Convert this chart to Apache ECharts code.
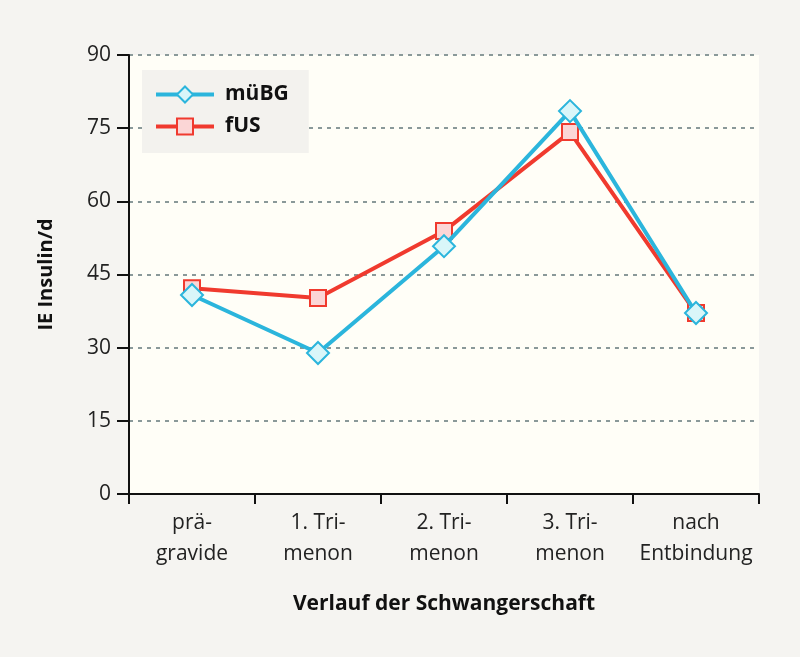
<!DOCTYPE html>
<html><head><meta charset="utf-8">
<script src="https://cdn.jsdelivr.net/npm/echarts@6/dist/echarts.min.js"></script>
<style>html,body{margin:0;padding:0;background:#f5f4f1;}#c{width:800px;height:657px;}</style>
</head><body><div id="c"></div>
<script>
const categories = ['prä-\ngravide', '1. Tri-\nmenon', '2. Tri-\nmenon', '3. Tri-\nmenon', 'nach\nEntbindung'];
const muBG = [40.8, 28.9, 50.8, 78.5, 37.1];
const fUS = [42.2, 40.2, 53.9, 74.2, 37.1];
const yTicks = { min: 0, max: 90, interval: 15 };
const FONT = 'Open Sans';

const chart = echarts.init(document.getElementById('c'));
chart.setOption({
  backgroundColor: '#f5f4f1',
  textStyle: { fontFamily: FONT },
  grid: { left: 129, right: 41, top: 55, bottom: 163, show: true, backgroundColor: '#fffef7', borderWidth: 0 },
  legend: {
    data: ['müBG', 'fUS'],
    orient: 'vertical',
    left: 142, top: 70,
    backgroundColor: '#f3f2ee',
    padding: [14, 20, 16, 12],
    itemGap: 11,
    itemWidth: 58, itemHeight: 20,
    lineStyle: { width: 4 },
    textStyle: { fontFamily: FONT, fontWeight: 'bold', fontSize: 21, color: '#111', padding: [0, 0, 0, 6] }
  },
  xAxis: {
    type: 'category',
    data: categories,
    boundaryGap: true,
    name: 'Verlauf der Schwangerschaft',
    nameLocation: 'middle',
    nameGap: 100,
    nameTextStyle: { fontFamily: FONT, fontWeight: 'bold', fontSize: 21, color: '#111' },
    axisLine: { lineStyle: { color: '#111', width: 2 } },
    axisTick: { show: true, interval: 0, inside: false, length: 10, lineStyle: { color: '#111', width: 2 } },
    axisLabel: { interval: 0, fontFamily: FONT, fontSize: 21, color: '#222', lineHeight: 31, margin: 14 },
    splitLine: { show: false }
  },
  yAxis: {
    type: 'value',
    min: yTicks.min, max: yTicks.max, interval: yTicks.interval,
    name: 'IE Insulin/d',
    nameLocation: 'middle',
    nameGap: 73,
    nameTextStyle: { fontFamily: FONT, fontWeight: 'bold', fontSize: 20, color: '#111' },
    axisLine: { show: true, lineStyle: { color: '#111', width: 2 } },
    axisTick: { show: true, length: 12, lineStyle: { color: '#111', width: 2 } },
    axisLabel: { fontFamily: FONT, fontSize: 21, color: '#222', margin: 18 },
    splitLine: { show: true, lineStyle: { color: '#8a9999', width: 2, type: [4, 5] } }
  },
  series: [
    {
      name: 'fUS', type: 'line', data: fUS,
      symbol: 'rect', symbolSize: 16,
      lineStyle: { color: '#f03a2e', width: 4 },
      itemStyle: { color: '#fbd6d6', borderColor: '#f03a2e', borderWidth: 2 },
      z: 2
    },
    {
      name: 'müBG', type: 'line', data: muBG,
      symbol: 'diamond', symbolSize: 22,
      lineStyle: { color: '#2bb5dc', width: 4 },
      itemStyle: { color: '#d9f6f9', borderColor: '#2bb5dc', borderWidth: 2 },
      z: 3
    }
  ]
});
</script></body></html>
